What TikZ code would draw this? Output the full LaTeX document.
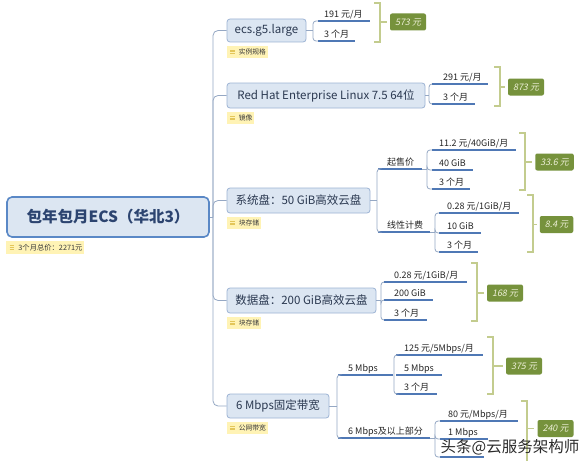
\documentclass[tikz,border=0pt]{standalone}
\usepackage{fontspec}
\setmainfont{Noto Sans CJK SC}
\newfontfamily\sumfont[FakeSlant=0.2]{Noto Sans CJK SC}
\usetikzlibrary{calc}
\definecolor{boxfill}{HTML}{DCE6F2}
\definecolor{boxline}{HTML}{9DB3D4}
\definecolor{rootline}{HTML}{5A88C6}
\definecolor{roottext}{HTML}{2C4470}
\definecolor{boxtext}{HTML}{2A3850}
\definecolor{leafcol}{HTML}{262626}
\definecolor{ulcol}{HTML}{4F78B5}
\definecolor{conncol}{HTML}{95A8C4}
\definecolor{brkcol}{HTML}{C3CC8E}
\definecolor{sumfill}{HTML}{76923C}
\definecolor{sumtext}{HTML}{EEF0D8}
\definecolor{notefill}{HTML}{FFF3B5}
\definecolor{noteicon}{HTML}{E3C65A}
\definecolor{notetext}{HTML}{3A3A3A}
\definecolor{wmtext}{HTML}{2B2B2B}
\newcommand\mmleaf[6]{%
  \coordinate (#1l) at (#2,#3);
  \coordinate (#1r) at (#4,#3);
  \node[leaftext] (#1) at (#5,{#3-3.5}) {#6};
  \draw[uline] (#1l) -- (#1r);
}
\newcommand\mmbrk[7]{%
  \draw[brk] ({#2-6},#3) -- (#2,#3) -- (#2,#4) -- ({#2-6},#4);
  \node[sumbox] (#1) at (#5,#6) {#7};
  \coordinate (#1b) at (#2,#6);
  \draw[brk] (#1b) -- ([xshift=-3pt]#1.west);
}
\newcommand\mmnote[3]{%
  \node[note] (#1) at ([yshift=-3pt]#2.south west) {\hspace*{10pt}#3};
  \foreach \k in {-1.6,0,1.6}
    \draw[noteicon, line width=0.7pt] ([xshift=3.5pt,yshift=\k pt]#1.west) -- ([xshift=8pt,yshift=\k pt]#1.west);
}
\begin{document}
\begin{tikzpicture}[x=1pt,y=-1pt,
  mainbox/.style={draw=boxline, fill=boxfill, rounded corners=3pt, line width=0.8pt, text=boxtext, font=\fontsize{11.5}{13}\selectfont, inner sep=0pt},
  rootbox/.style={draw=rootline, fill=boxfill, rounded corners=5pt, line width=1.6pt, text=roottext, font=\fontsize{15.5}{17}\selectfont\bfseries, minimum width=202pt, minimum height=40pt, inner sep=0pt},
  leaftext/.style={anchor=base west, inner sep=0pt, font=\fontsize{9}{10}\selectfont, text=leafcol},
  uline/.style={draw=ulcol, line width=1.1pt},
  conn/.style={draw=conncol, line width=0.8pt},
  brk/.style={draw=brkcol, line width=1.6pt},
  sumbox/.style={fill=sumfill, rounded corners=2pt, text=sumtext, font=\sumfont\fontsize{9}{10}\selectfont, inner xsep=5pt, inner ysep=0pt, minimum height=17pt},
  note/.style={fill=notefill, anchor=north west, inner xsep=2pt, inner ysep=0pt, minimum height=12.5pt, font=\fontsize{6.8}{7}\selectfont, text=notetext},
  cornered/.style={conn, rounded corners=3pt}
]
\useasboundingbox[fill=white] (0,0) rectangle (588,460);

% root
\node[rootbox] (root) at (108,217) {包年包月ECS（华北3）};
\node[note, anchor=north west, font=\fontsize{7.3}{8}\selectfont] (rootnote) at ([yshift=-3pt]root.south west) {\hspace*{10pt}3个月总价：2271元};
\foreach \k in {-1.6,0,1.6}
  \draw[noteicon, line width=0.7pt] ([xshift=3.5pt,yshift=\k pt]rootnote.west) -- ([xshift=8pt,yshift=\k pt]rootnote.west);

% main boxes
\node[mainbox, minimum width=79pt, minimum height=23pt] (ecs) at (266.5,30.5) {ecs.g5.large};
\node[mainbox, minimum width=198pt, minimum height=25pt] (rh) at (326,95.5) {Red Hat Enterprise Linux 7.5 64位};
\node[mainbox, minimum width=143pt, minimum height=25pt] (sys) at (298.5,200.5) {系统盘：50 GiB高效云盘};
\node[mainbox, minimum width=149pt, minimum height=25pt] (dat) at (301.5,300.5) {数据盘：200 GiB高效云盘};
\node[mainbox, minimum width=102pt, minimum height=24pt] (bw) at (278,406) {6 Mbps固定带宽};

\mmnote{ecsn}{ecs}{实例规格}
\mmnote{rhn}{rh}{镜像}
\mmnote{sysn}{sys}{块存储}
\mmnote{datn}{dat}{块存储}
\mmnote{bwn}{bw}{公网带宽}

% trunk
\coordinate (trunk) at (213,217);
\draw[conn] (root.east) -- (trunk);
\foreach \b in {ecs,rh,sys,dat,bw}
  \draw[conn, rounded corners=5pt] (trunk) |- (\b.west);

% ecs
\mmleaf{e1}{318}{21}{370}{324}{191 元/月}
\mmleaf{e2}{318}{41}{355}{324}{3 个月}
\coordinate (eJ) at (313,30.5);
\draw[conn] (ecs.east) -- (eJ);
\draw[cornered] (eJ) |- (e1l);
\draw[cornered] (eJ) |- (e2l);
\mmbrk{es}{380}{3}{42}{408}{22}{573 元}

% red hat
\mmleaf{r1}{432}{84}{488}{443}{291 元/月}
\mmleaf{r2}{432}{104}{475}{443}{3 个月}
\coordinate (rJ) at (429,95.5);
\draw[conn] (rh.east) -- (rJ);
\draw[cornered] (rJ) |- (r1l);
\draw[cornered] (rJ) |- (r2l);
\mmbrk{rs}{500}{67}{106}{526}{87}{873 元}

% system disk
\mmleaf{s1}{378}{169}{422}{387}{起售价}
\mmleaf{s2}{378}{232}{430}{387}{线性计费}
\coordinate (sJ) at (377,200.5);
\draw[conn] (sys.east) -- (sJ);
\draw[cornered] (sJ) |- (s1l);
\draw[cornered] (sJ) |- (s2l);

\mmleaf{s11}{432}{150}{516}{439}{11.2 元/40GiB/月}
\mmleaf{s12}{432}{170}{473}{439}{40 GiB}
\mmleaf{s13}{432}{189}{470}{439}{3 个月}
\coordinate (s1J) at (427,169);
\draw[conn] (s1r) -- (s1J);
\draw[cornered] (s1J) |- (s11l);
\draw[cornered] (s1J) |- (s12l);
\draw[cornered] (s1J) |- (s13l);
\mmbrk{ss1}{525}{133}{190}{554.5}{162}{33.6 元}

\mmleaf{s21}{439}{213}{519}{447}{0.28 元/1GiB/月}
\mmleaf{s22}{439}{233}{481}{447}{10 GiB}
\mmleaf{s23}{439}{252}{478}{447}{3 个月}
\coordinate (s2J) at (435,232);
\draw[conn] (s2r) -- (s2J);
\draw[cornered] (s2J) |- (s21l);
\draw[cornered] (s2J) |- (s22l);
\draw[cornered] (s2J) |- (s23l);
\mmbrk{ss2}{533}{195}{252}{556.5}{224.5}{8.4 元}

% data disk
\mmleaf{d1}{384}{282}{467}{394}{0.28 元/1GiB/月}
\mmleaf{d2}{384}{300}{433}{394}{200 GiB}
\mmleaf{d3}{384}{320}{427}{394}{3 个月}
\coordinate (dJ) at (381,300.5);
\draw[conn] (dat.east) -- (dJ);
\draw[cornered] (dJ) |- (d1l);
\draw[cornered] (dJ) |- (d2l);
\draw[cornered] (dJ) |- (d3l);
\mmbrk{ds}{477}{263}{321}{505}{293}{168 元}

% bandwidth
\mmleaf{b1}{338}{375}{393}{348}{5 Mbps}
\mmleaf{b2}{338}{438}{430}{348}{6 Mbps及以上部分}
\coordinate (bJ) at (337,406);
\draw[conn] (bw.east) -- (bJ);
\draw[cornered] (bJ) |- (b1l);
\draw[cornered] (bJ) |- (b2l);

\mmleaf{b11}{396}{355}{483}{404}{125 元/5Mbps/月}
\mmleaf{b12}{396}{375}{442}{404}{5 Mbps}
\mmleaf{b13}{396}{394}{437}{404}{3 个月}
\coordinate (b1J) at (394,375);
\draw[cornered] (b1J) |- (b11l);
\draw[cornered] (b1J) |- (b13l);
\mmbrk{bs1}{493}{337}{394}{524}{366}{375 元}

\mmleaf{b21}{440}{421}{518}{448}{80 元/Mbps/月}
\mmleaf{b22}{440}{439}{488}{448}{1 Mbps}
\coordinate (b23l) at (440,457);
\coordinate (b23r) at (484,457);
\draw[uline] (b23l) -- (b23r);
\coordinate (b2J) at (435,438);
\draw[conn] (b2r) -- (b2J);
\draw[cornered] (b2J) |- (b21l);
\draw[cornered] (b2J) |- (b22l);
\draw[cornered] (b2J) |- (b23l);
\draw[brk] (521,401) -- (527,401) -- (527,461);
\node[sumbox] (bs2) at (555.5,428.5) {240 元};
\coordinate (bs2b) at (527,428.5);
\draw[brk] (bs2b) -- ([xshift=-3pt]bs2.west);

% watermark
\node[text=wmtext, font=\fontsize{15.5}{17}\selectfont, inner sep=0pt] (wm) at (510,447) {头条@云服务架构师};
\end{tikzpicture}
\end{document}
